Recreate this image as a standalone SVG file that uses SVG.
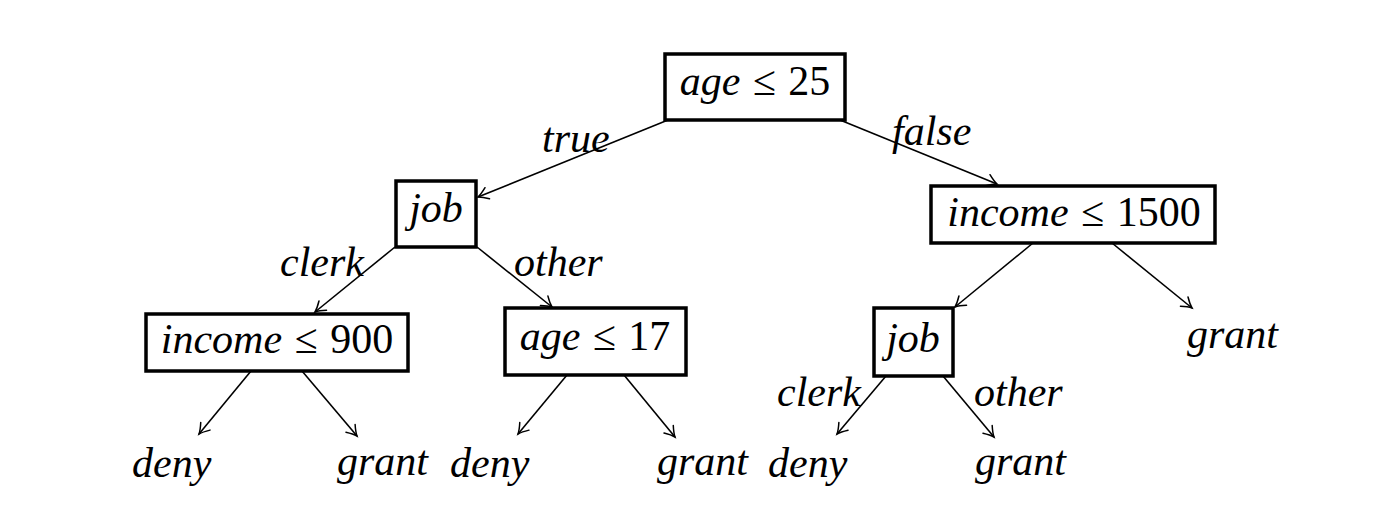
<svg xmlns="http://www.w3.org/2000/svg" width="1400" height="516" viewBox="0 0 1400 516">
<style>
  .box { fill: #fff; stroke: #000; stroke-width: 3.5; }
  .t { font-family: "Liberation Serif", "Times New Roman", serif; font-size: 42px; fill: #000; }
  .i { font-style: italic; }
  .lab { word-spacing: 2px; }
  .edge { stroke: #000; stroke-width: 1.6; fill: none; marker-end: url(#arr); }
</style>
<defs>
  <marker id="arr" markerUnits="userSpaceOnUse" viewBox="-12 -8 14 16" refX="0" refY="0" markerWidth="14" markerHeight="16" orient="auto" overflow="visible">
    <path d="M-10,-6 Q-4,-1.5 0,0 Q-4,1.5 -10,6" fill="none" stroke="#000" stroke-width="1.5" stroke-linecap="round"/>
  </marker>
</defs>
<rect width="1400" height="516" fill="#fff"/>
<g id="connectors">
  <path class="edge" d="M668,120 L478,197"/>
  <path class="edge" d="M840,120 L997,184"/>
  <path class="edge" d="M395,247 L315,312"/>
  <path class="edge" d="M477,247 L552,307"/>
  <path class="edge" d="M1033,243 L955,307"/>
  <path class="edge" d="M1112,243 L1192,308"/>
  <path class="edge" d="M251,371 L199,434"/>
  <path class="edge" d="M302,371 L357,436"/>
  <path class="edge" d="M567,375 L518,434"/>
  <path class="edge" d="M624,375 L675,437"/>
  <path class="edge" d="M886,376 L837,434"/>
  <path class="edge" d="M943,376 L994,437"/>
</g>
<g id="edge-labels">
  <text class="t i" x="542" y="152">true</text>
  <text class="t i" x="892" y="145">false</text>
  <text class="t i" x="280" y="276">clerk</text>
  <text class="t i" x="514" y="276">other</text>
  <text class="t i" x="777" y="406">clerk</text>
  <text class="t i" x="974" y="406">other</text>
</g>
<g id="n-root">
  <rect class="box" x="665" y="54" width="180" height="66"/>
  <text class="t lab" x="755" y="95" text-anchor="middle"><tspan class="i">age</tspan> ≤ 25</text>
</g>
<g id="n-job-left">
  <rect class="box" x="396" y="181" width="80" height="66"/>
  <text class="t i" x="436" y="222" text-anchor="middle">job</text>
</g>
<g id="n-income1500">
  <rect class="box" x="931" y="186" width="284" height="57"/>
  <text class="t lab" x="1074" y="226" text-anchor="middle"><tspan class="i">income</tspan> ≤ 1500</text>
</g>
<g id="n-income900">
  <rect class="box" x="146" y="314" width="262" height="57"/>
  <text class="t lab" x="277" y="353" text-anchor="middle"><tspan class="i">income</tspan> ≤ 900</text>
</g>
<g id="n-age17">
  <rect class="box" x="505" y="308" width="181" height="67"/>
  <text class="t lab" x="595" y="350" text-anchor="middle"><tspan class="i">age</tspan> ≤ 17</text>
</g>
<g id="n-job-right">
  <rect class="box" x="874" y="308" width="79" height="68"/>
  <text class="t i" x="913" y="352" text-anchor="middle">job</text>
</g>
<g id="leaf-deny-1"><text class="t i" x="132" y="477">deny</text></g>
<g id="leaf-grant-1"><text class="t i" x="337" y="475">grant</text></g>
<g id="leaf-deny-2"><text class="t i" x="450" y="477">deny</text></g>
<g id="leaf-grant-2"><text class="t i" x="657" y="475">grant</text></g>
<g id="leaf-deny-3"><text class="t i" x="768" y="477">deny</text></g>
<g id="leaf-grant-3"><text class="t i" x="975" y="475">grant</text></g>
<g id="leaf-grant-4"><text class="t i" x="1187" y="348">grant</text></g>
</svg>
